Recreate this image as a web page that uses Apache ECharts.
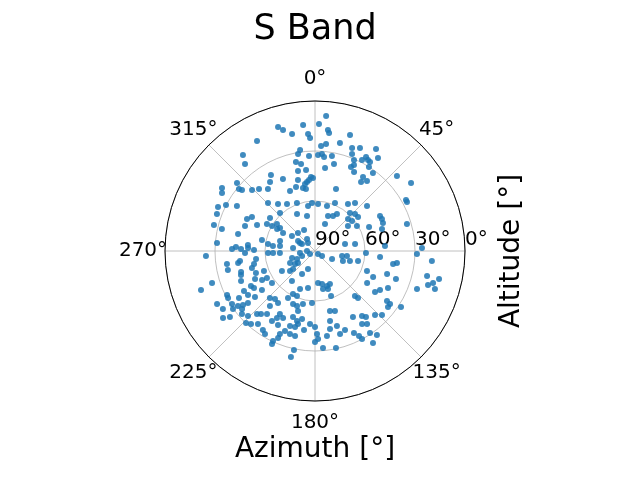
<!DOCTYPE html>
<html><head><meta charset="utf-8">
<script src="https://cdn.jsdelivr.net/npm/echarts@6/dist/echarts.min.js"></script>
<style>html,body{margin:0;padding:0;background:#fff}#c{width:640px;height:480px}</style>
</head><body><div id="c"></div>
<script>
// Azimuth [deg], clockwise from north
const azimuth = [
332.2,323.1,321.2,311.1,309.2,309.9,314.1,317.9,304.1,302.0,4.7,343.4,345.2,348.9,354.6,1.8,6.1,6.8,356.6,357.5,
16.8,5.9,13.0,3.3,19.8,23.6,351.6,350.1,1.8,4.1,5.5,10.1,356.4,20.9,23.2,347.9,350.9,12.3,24.4,23.2,
6.9,353.7,26.3,27.3,329.9,336.0,348.0,356.9,358.4,355.2,353.4,351.5,346.5,326.9,322.8,337.4,343.5,349.2,351.7,18.7,
33.7,33.0,30.9,34.1,28.5,30.2,31.7,32.7,36.6,36.6,47.5,54.7,60.7,
294.4,297.3,300.0,290.7,295.2,298.4,284.4,289.7,283.3,294.1,282.5,274.7,281.7,272.9,271.4,271.5,275.1,272.6,268.4,270.9,
267.4,262.3,261.6,261.1,262.4,258.0,257.7,254.9,249.6,254.2,252.0,248.6,241.3,247.9,245.0,252.7,251.1,241.3,238.8,240.6,
233.7,243.4,241.6,238.3,236.7,232.5,315.6,321.8,329.2,339.4,351.2,356.4,317.4,334.1,347.1,306.3,299.4,300.2,305.4,303.3,
300.1,299.4,303.1,316.6,332.4,300.5,298.1,298.3,326.3,318.8,278.5,276.8,285.9,278.1,277.8,267.6,267.3,266.7,262.4,270.0,
239.0,253.1,246.0,249.0,244.4,237.0,234.8,238.8,231.3,230.7,209.5,201.3,240.6,233.3,217.5,190.7,201.5,207.1,201.8,223.8,
219.8,209.9,3.7,14.9,22.6,35.1,39.8,20.4,27.2,30.7,42.6,47.2,51.7,45.9,51.0,20.3,59.2,52.9,76.9,80.1,
135.0,125.5,115.2,100.5,98.9,105.9,109.7,103.1,174.6,168.0,161.1,155.6,161.1,168.1,138.4,137.5,160.4,49.1,62.0,61.7,
64.5,67.6,66.0,71.8,73.6,85.9,92.2,91.7,88.4,95.3,99.5,98.3,94.9,111.0,114.1,107.7,109.1,102.6,121.6,124.3,
121.0,116.9,124.8,110.4,106.7,105.2,107.6,102.7,
241.6,237.4,234.5,233.1,232.2,234.7,237.8,231.5,233.9,232.2,229.2,225.9,223.8,221.2,222.6,220.6,218.0,213.4,211.1,219.3,
215.4,202.5,198.1,192.8,183.3,166.0,161.6,217.3,211.6,209.6,209.1,205.5,198.4,195.8,194.4,190.8,193.1,194.7,196.8,200.6,
202.9,203.0,205.0,204.8,198.4,183.9,180.0,187.9,178.6,180.0,172.0,169.1,163.7,159.2,163.2,150.1,144.1,154.6,152.6,175.3,
167.8,192.0,192.8,193.2,147.2,151.9,167.9,206.6,178.0,125.2,127.5,123.1,136.8,133.7,142.3,144.5,146.1,143.6,147.8
];
// Altitude [deg], 90 at zenith (centre)
const altitude = [
15.4,18.0,23.0,27.9,31.1,32.9,37.4,39.9,22.6,24.2,8.7,12.4,14.9,18.5,14.1,13.8,17.0,18.7,19.7,22.1,
17.3,25.5,23.5,26.9,24.3,22.6,28.7,30.9,32.4,31.6,33.4,32.1,32.9,27.7,30.6,35.4,37.1,36.5,33.4,35.2,
39.8,41.1,37.1,28.5,37.3,42.7,40.9,45.5,46.2,47.2,48.3,49.4,46.2,40.6,43.3,51.0,49.9,51.5,52.4,50.7,
40.2,37.1,18.7,22.6,25.8,26.8,27.2,30.1,31.7,37.7,23.3,19.4,27.4,
26.1,29.9,35.9,27.1,44.9,47.0,27.4,45.4,32.6,51.9,42.7,31.0,57.5,42.5,40.2,45.6,49.6,49.8,48.0,53.4,
24.5,54.3,36.6,43.3,44.6,52.6,36.5,50.8,52.2,43.9,43.3,57.1,53.8,42.1,50.3,25.3,17.7,46.2,47.2,41.1,
50.5,31.0,30.7,36.4,41.9,44.6,49.7,54.1,57.2,59.2,62.7,61.1,59.0,65.3,68.5,56.5,56.9,60.2,62.0,64.9,
63.7,68.0,73.5,75.1,75.8,78.2,79.8,81.1,81.4,83.6,61.5,64.6,68.2,68.8,76.7,61.8,64.8,68.9,80.9,85.2,
86.5,75.6,78.2,81.7,73.4,75.7,77.5,66.8,70.8,73.0,74.2,78.4,56.9,57.8,67.3,67.4,65.5,61.0,60.9,50.9,
52.5,57.5,61.7,62.0,58.8,55.6,52.5,67.6,66.4,64.2,59.0,57.3,57.1,62.4,61.4,72.7,60.7,65.2,71.5,65.6,
87.5,84.8,78.7,73.5,70.6,68.2,72.2,63.5,70.7,69.8,67.8,68.3,65.9,66.7,53.9,51.8,61.3,48.7,27.5,45.7,
45.5,45.9,54.5,47.7,32.5,47.9,59.4,28.8,25.8,50.8,42.5,40.3,19.6,56.6,51.8,44.6,38.6,21.1,53.3,46.4,
44.5,40.9,37.4,24.7,19.2,16.6,14.5,13.7,
23.2,30.9,33.2,36.0,39.1,29.7,24.7,34.1,21.7,25.4,32.1,34.0,30.2,31.7,38.6,40.2,34.4,33.2,31.9,47.3,
51.7,55.6,55.3,57.4,58.7,52.9,52.1,42.5,40.7,43.8,46.7,45.5,48.2,52.6,46.6,48.5,45.0,42.8,38.0,38.8,
35.9,33.3,30.4,28.5,42.5,46.1,44.4,42.1,40.2,35.4,38.5,42.4,43.1,39.3,38.0,44.3,41.9,35.5,32.6,31.6,
30.5,29.3,24.8,37.6,37.9,30.1,47.0,40.4,37.2,34.9,34.8,28.4,37.4,34.4,40.0,36.2,30.8,27.4,24.7
];
const azimuthTicks = [0, 45, 135, 180, 225, 270, 315];
const titleText = 'S Band';
const xLabelText = 'Azimuth [°]';
const yLabelText = 'Altitude [°]';

const FONT = 'DejaVu Sans';
const CX = 315, CY = 251, R = 150, LABEL_R = 172;
const chart = echarts.init(document.getElementById('c'), null, {renderer: 'canvas'});
const points = azimuth.map((a, i) => [altitude[i], a]);

const graphics = [
  {type:'text', x:CX, y:30, style:{text:titleText, fontSize:35, fontFamily:FONT, fill:'#000', align:'center', verticalAlign:'middle'}},
  {type:'text', x:CX, y:450, style:{text:xLabelText, fontSize:28, fontFamily:FONT, fill:'#000', align:'center', verticalAlign:'middle'}},
  {type:'text', x:512, y:CY, rotation:Math.PI/2, style:{text:yLabelText, fontSize:28, fontFamily:FONT, fill:'#000', align:'center', verticalAlign:'middle'}}
];
azimuthTicks.forEach(a => {
  const t = a * Math.PI / 180;
  graphics.push({type:'text', x: CX + LABEL_R * Math.sin(t), y: CY - LABEL_R * Math.cos(t),
    style:{text: a + '°', fontSize:20, fontFamily:FONT, fill:'#000', align:'center', verticalAlign:'middle'}});
});

const option = {
  animation: false,
  backgroundColor: '#fff',
  polar: [{center:[CX, CY], radius:R}, {center:[CX, CY], radius:R}],
  angleAxis: [
    {polarIndex:0, type:'value', min:0, max:360, interval:45, startAngle:90, clockwise:true,
     axisLine:{show:true, lineStyle:{color:'#000', width:1}}, axisTick:{show:false}, axisLabel:{show:false},
     splitLine:{show:true, lineStyle:{color:'#b0b0b0', width:0.8}}},
    {polarIndex:1, type:'value', min:0, max:360, startAngle:0, clockwise:true, show:false}
  ],
  radiusAxis: [
    {polarIndex:0, type:'value', min:0, max:90, interval:30, inverse:true,
     axisLine:{show:false}, axisTick:{show:false}, axisLabel:{show:false},
     splitLine:{show:true, lineStyle:{color:'#b0b0b0', width:0.8}}},
    {polarIndex:1, type:'value', min:0, max:90, interval:30, inverse:true,
     axisLine:{show:false}, axisTick:{show:false}, splitLine:{show:false},
     axisLabel:{show:true, formatter:'{value}°', fontSize:20, fontFamily:FONT, color:'#000',
       align:'left', verticalAlign:'middle', margin:11}}
  ],
  series: [{type:'scatter', coordinateSystem:'polar', polarIndex:0, data:points, symbolSize:6,
    itemStyle:{color:'#1f77b4', opacity:0.85}, z:3}],
  graphic: graphics
};
chart.setOption(option);
</script></body></html>
